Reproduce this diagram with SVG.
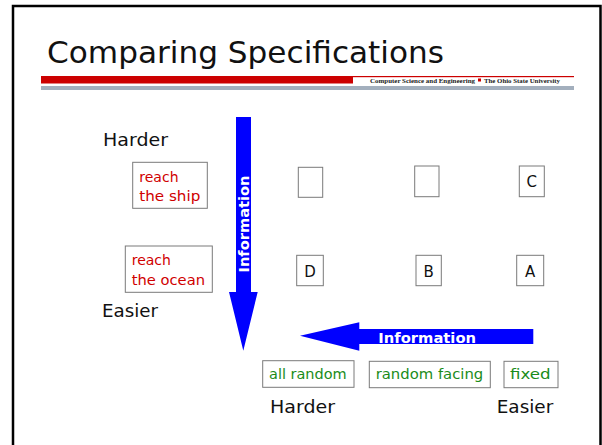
<svg xmlns="http://www.w3.org/2000/svg" width="602" height="445" viewBox="0 0 602 445">
<style>
.title{font-family:"DejaVu Sans","Liberation Sans",sans-serif;font-size:29.5px;fill:#111}
.hdr{font-family:"Liberation Serif",serif;font-weight:bold;font-size:7px;fill:#222}
.lbl{font-family:"Comic Sans MS","DejaVu Sans",sans-serif;font-size:17px;fill:#111}
.red{font-family:"Comic Sans MS","DejaVu Sans",sans-serif;font-size:14px;fill:#d00000}
.grn{font-family:"Comic Sans MS","DejaVu Sans",sans-serif;font-size:14px;fill:#1a8c1a}
.let{font-family:"Comic Sans MS","DejaVu Sans",sans-serif;font-size:15px;fill:#111;text-anchor:middle}
.box{fill:#fff;stroke:#7a7a7a;stroke-width:1}
.arr{fill:#0000ff}
.info{font-family:"DejaVu Sans","Liberation Sans",sans-serif;font-weight:bold;font-size:14px;fill:#fff}
</style>
<rect x="0" y="0" width="602" height="445" fill="#fff"/>
<path d="M13,460 V6 H600.5 V460" fill="none" stroke="#000" stroke-width="2.5"/>
<text class="title" x="47" y="63" textLength="397" lengthAdjust="spacingAndGlyphs">Comparing Specifications</text>
<rect x="41" y="76" width="312" height="7.5" fill="#cc0000"/>
<rect x="353" y="76" width="221" height="1.2" fill="#cc0000"/>
<rect x="41" y="86" width="533" height="4" fill="#a3afbd"/>
<text class="hdr" x="370" y="82.5" textLength="105" lengthAdjust="spacingAndGlyphs">Computer Science and Engineering</text>
<rect x="478" y="78.5" width="3" height="3" fill="#cc0000"/>
<text class="hdr" x="484" y="82.5" textLength="76" lengthAdjust="spacingAndGlyphs">The Ohio State University</text>

<g id="connectors">
  <g id="info-vertical">
    <polygon class="arr" points="236,117 251,117 251,292 257.7,292 243.3,350.7 229,292 236,292"/>
    <text class="info" transform="translate(249,224) rotate(-90)" x="0" y="0" text-anchor="middle" textLength="97" lengthAdjust="spacingAndGlyphs">Information</text>
  </g>
  <g id="info-horizontal">
    <polygon class="arr" points="533.3,329 533.3,344 359.3,344 359.3,350.7 300,335.7 359.3,322.3 359.3,329"/>
    <text class="info" x="378.3" y="342.7" textLength="97.7" lengthAdjust="spacingAndGlyphs">Information</text>
  </g>
</g>

<g id="label-harder-left"><text class="lbl" x="103" y="146" textLength="65" lengthAdjust="spacingAndGlyphs">Harder</text></g>
<g id="label-easier-left"><text class="lbl" x="102" y="316.7" textLength="56" lengthAdjust="spacingAndGlyphs">Easier</text></g>

<g id="reach-ship">
  <rect class="box" x="132.7" y="162.3" width="74.6" height="46"/>
  <text class="red" x="139.3" y="181.7">reach</text>
  <text class="red" x="139.3" y="200.7" textLength="61" lengthAdjust="spacingAndGlyphs">the ship</text>
</g>
<g id="reach-ocean">
  <rect class="box" x="125.3" y="246" width="87" height="46.3"/>
  <text class="red" x="131.7" y="265.3">reach</text>
  <text class="red" x="131.7" y="285" textLength="73.3" lengthAdjust="spacingAndGlyphs">the ocean</text>
</g>

<g id="cell-r1c1"><rect class="box" x="298.3" y="167.3" width="24.4" height="30" stroke="#555"/></g>
<g id="cell-r1c2"><rect class="box" x="414.7" y="166" width="24.3" height="30.7"/></g>
<g id="cell-C"><rect class="box" x="519.3" y="166" width="25" height="30.7"/><text class="let" x="531.8" y="187.3">C</text></g>
<g id="cell-D"><rect class="box" x="296.7" y="255.3" width="26.6" height="30.4"/><text class="let" x="310" y="276.7">D</text></g>
<g id="cell-B"><rect class="box" x="416" y="255.3" width="25.3" height="30.4"/><text class="let" x="428.6" y="276.7">B</text></g>
<g id="cell-A"><rect class="box" x="516.7" y="255.3" width="27" height="30.4"/><text class="let" x="530.2" y="276.7">A</text></g>

<g id="all-random">
  <rect class="box" x="262.7" y="360.7" width="91.3" height="26.6"/>
  <text class="grn" x="269" y="378.7" textLength="77.7" lengthAdjust="spacingAndGlyphs">all random</text>
</g>
<g id="random-facing">
  <rect class="box" x="369.3" y="361.3" width="121" height="26.4"/>
  <text class="grn" x="375.7" y="378.7" textLength="107.6" lengthAdjust="spacingAndGlyphs">random facing</text>
</g>
<g id="fixed">
  <rect class="box" x="504" y="361.3" width="54" height="26.4"/>
  <text class="grn" x="510" y="378.7" textLength="40.7" lengthAdjust="spacingAndGlyphs">fixed</text>
</g>

<g id="label-harder-bottom"><text class="lbl" x="270" y="412.7" textLength="65" lengthAdjust="spacingAndGlyphs">Harder</text></g>
<g id="label-easier-bottom"><text class="lbl" x="496.7" y="412.7" textLength="56.6" lengthAdjust="spacingAndGlyphs">Easier</text></g>
</svg>
